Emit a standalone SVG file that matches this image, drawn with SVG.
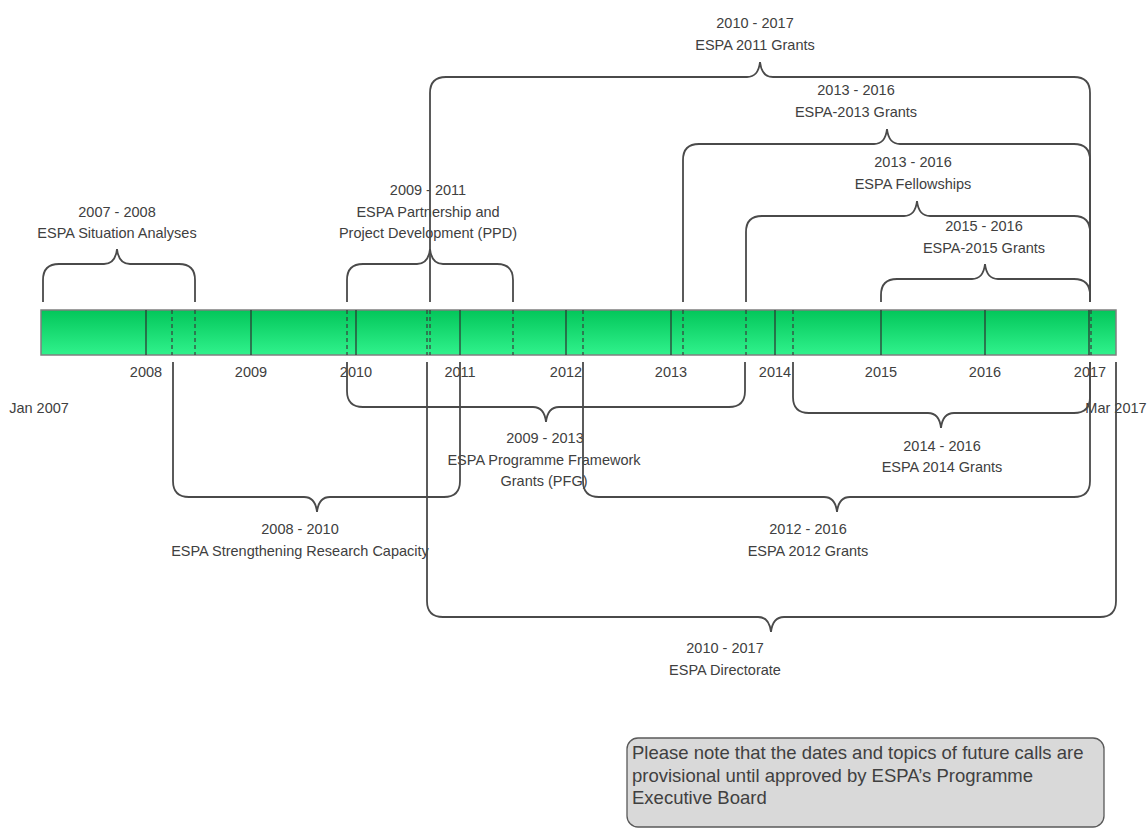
<svg xmlns="http://www.w3.org/2000/svg" width="1148" height="830" viewBox="0 0 1148 830">
<style>
text{font-family:"Liberation Sans",Arial,sans-serif;font-size:14.5px;fill:#404040;text-anchor:middle}
.brace{fill:none;stroke:#4a4a4a;stroke-width:1.8}
.tick{stroke:#2e2e2e;stroke-width:1.2}
.dash{stroke:#3a3a3a;stroke-width:1.2;stroke-dasharray:4 3}
.note text{font-size:18.5px;text-anchor:start}
</style>
<defs>
<linearGradient id="barGrad" x1="0" y1="0" x2="0" y2="1">
<stop offset="0" stop-color="#03c65a"/>
<stop offset="1" stop-color="#30f28c"/>
</linearGradient>
</defs>
<rect width="1148" height="830" fill="#ffffff"/>

<g id="timeline">
<rect x="41" y="310" width="1075" height="45" fill="url(#barGrad)" stroke="#7f7f7f" stroke-width="1.5"/>
<g class="tick">
<line x1="146" y1="310" x2="146" y2="355"/>
<line x1="251" y1="310" x2="251" y2="355"/>
<line x1="356" y1="310" x2="356" y2="355"/>
<line x1="460" y1="310" x2="460" y2="355"/>
<line x1="566" y1="310" x2="566" y2="355"/>
<line x1="671" y1="310" x2="671" y2="355"/>
<line x1="775" y1="310" x2="775" y2="355"/>
<line x1="881" y1="310" x2="881" y2="355"/>
<line x1="985" y1="310" x2="985" y2="355"/>
<line x1="1089" y1="310" x2="1089" y2="355"/>
</g>
<g class="dash">
<line x1="172" y1="310" x2="172" y2="355"/>
<line x1="195" y1="310" x2="195" y2="355"/>
<line x1="347" y1="310" x2="347" y2="355"/>
<line x1="427" y1="310" x2="427" y2="355"/>
<line x1="430" y1="310" x2="430" y2="355"/>
<line x1="513" y1="310" x2="513" y2="355"/>
<line x1="583" y1="310" x2="583" y2="355"/>
<line x1="683" y1="310" x2="683" y2="355"/>
<line x1="746" y1="310" x2="746" y2="355"/>
<line x1="793" y1="310" x2="793" y2="355"/>
<line x1="1091" y1="310" x2="1091" y2="355"/>
</g>
<text x="146" y="377">2008</text>
<text x="251" y="377">2009</text>
<text x="356" y="377">2010</text>
<text x="460" y="377">2011</text>
<text x="566" y="377">2012</text>
<text x="671" y="377">2013</text>
<text x="775" y="377">2014</text>
<text x="881" y="377">2015</text>
<text x="985" y="377">2016</text>
<text x="1090" y="377">2017</text>
<text x="39" y="413">Jan 2007</text>
<text x="1116" y="413">Mar 2017</text>
</g>

<g id="situation-analyses">
<path class="brace" d="M43,302 V280 Q43,264 59,264 H104 C112,264 116,258 117,249 C118,258 122,264 130,264 H179 Q195,264 195,280 V302"/>
<text x="117" y="217">2007 - 2008</text>
<text x="117" y="238">ESPA Situation Analyses</text>
</g>

<g id="ppd">
<path class="brace" d="M347,302 V280 Q347,264 363,264 H417 C425,264 429,258 430,249 C431,258 435,264 443,264 H497 Q513,264 513,280 V302"/>
<text x="428" y="195">2009 - 2011</text>
<text x="428" y="217">ESPA Partnership and</text>
<text x="428" y="238">Project Development (PPD)</text>
</g>

<g id="grants-2011">
<path class="brace" d="M430,302 V93 Q430,77 446,77 H747 C755,77 759,71 760,62 C761,71 765,77 773,77 H1074 Q1090,77 1090,93 V302"/>
<text x="755" y="28">2010 - 2017</text>
<text x="755" y="50">ESPA 2011 Grants</text>
</g>

<g id="grants-2013">
<path class="brace" d="M683,302 V160 Q683,144 699,144 H874 C882,144 886,138 887,129 C888,138 892,144 900,144 H1074 Q1090,144 1090,160 V302"/>
<text x="856" y="95">2013 - 2016</text>
<text x="856" y="117">ESPA-2013 Grants</text>
</g>

<g id="fellowships">
<path class="brace" d="M746,302 V232 Q746,216 762,216 H904 C912,216 916,210 917,201 C918,210 922,216 930,216 H1074 Q1090,216 1090,232 V302"/>
<text x="913" y="167">2013 - 2016</text>
<text x="913" y="189">ESPA Fellowships</text>
</g>

<g id="grants-2015">
<path class="brace" d="M881,302 V295 Q881,279 897,279 H972 C980,279 984,273 985,264 C986,273 990,279 998,279 H1074 Q1090,279 1090,295 V302"/>
<text x="984" y="231">2015 - 2016</text>
<text x="984" y="253">ESPA-2015 Grants</text>
</g>

<g id="pfg">
<path class="brace" d="M347,362 V391 Q347,407 363,407 H533 C541,407 545,413 546,422 C547,413 551,407 559,407 H729 Q745,407 745,391 V362"/>
<text x="545" y="443">2009 - 2013</text>
<text x="544" y="465">ESPA Programme Framework</text>
<text x="544" y="486">Grants (PFG)</text>
</g>

<g id="strengthening">
<path class="brace" d="M173,362 V481 Q173,497 189,497 H304 C312,497 316,503 317,512 C318,503 322,497 330,497 H444 Q460,497 460,481 V362"/>
<text x="300" y="534">2008 - 2010</text>
<text x="300" y="556">ESPA Strengthening Research Capacity</text>
</g>

<g id="grants-2014">
<path class="brace" d="M793,362 V397 Q793,413 809,413 H928 C936,413 940,419 941,428 C942,419 946,413 954,413 H1074 Q1090,413 1090,397 V362"/>
<text x="942" y="451">2014 - 2016</text>
<text x="942" y="472">ESPA 2014 Grants</text>
</g>

<g id="grants-2012">
<path class="brace" d="M583,362 V481 Q583,497 599,497 H824 C832,497 836,503 837,512 C838,503 842,497 850,497 H1074 Q1090,497 1090,481 V362"/>
<text x="808" y="534">2012 - 2016</text>
<text x="808" y="556">ESPA 2012 Grants</text>
</g>

<g id="directorate">
<path class="brace" d="M427,362 V601 Q427,617 443,617 H758 C766,617 770,623 771,632 C772,623 776,617 784,617 H1100 Q1116,617 1116,601 V362"/>
<text x="725" y="653">2010 - 2017</text>
<text x="725" y="675">ESPA Directorate</text>
</g>

<g id="note" class="note">
<rect x="627" y="738" width="477" height="89" rx="11" ry="11" fill="#d9d9d9" stroke="#595959" stroke-width="1.3"/>
<text x="632" y="759">Please note that the dates and topics of future calls are</text>
<text x="632" y="782">provisional until approved by ESPA’s Programme</text>
<text x="632" y="804">Executive Board</text>
</g>
</svg>
